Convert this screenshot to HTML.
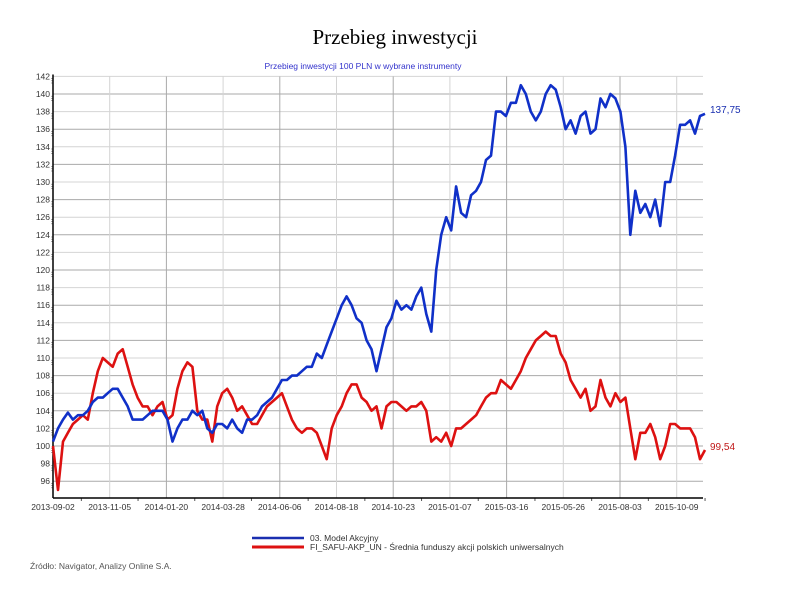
<!DOCTYPE html>
<html><head><meta charset="utf-8"><style>
body{margin:0;background:#fff;width:790px;height:594px;overflow:hidden;font-family:"Liberation Sans",sans-serif}
</style></head><body>
<svg width="790" height="594" xmlns="http://www.w3.org/2000/svg">
<text x="395" y="44" text-anchor="middle" font-family="Liberation Serif,serif" font-size="21" fill="#000">Przebieg inwestycji</text>
<text x="363" y="69" text-anchor="middle" font-size="8.5" fill="#3333cc">Przebieg inwestycji 100 PLN w wybrane instrumenty</text>
<g id="grid"></g>
<g id="axes"></g>
<g id="series"></g>
<g>
<line x1="252" y1="538" x2="304" y2="538" stroke="#1a2fb0" stroke-width="2.5"/>
<text x="310" y="541" font-size="8.5" fill="#333">03. Model Akcyjny</text>
<line x1="252" y1="547" x2="304" y2="547" stroke="#dd1111" stroke-width="3"/>
<text x="310" y="550" font-size="8.5" fill="#333">FI_SAFU-AKP_UN - Średnia funduszy akcji polskich uniwersalnych</text>
</g>
<text x="30" y="569" font-size="8.5" fill="#555">Źródło: Navigator, Analizy Online S.A.</text>
</svg>
<script>
const yTicks=[96,98,100,102,104,106,108,110,112,114,116,118,120,122,124,126,128,130,132,134,136,138,140,142];
const xLabels=["2013-09-02","2013-11-05","2014-01-20","2014-03-28","2014-06-06","2014-08-18","2014-10-23","2015-01-07","2015-03-16","2015-05-26","2015-08-03","2015-10-09"];
const blueValues=[100.5,102,103,103.8,103,103.5,103.5,104,105,105.5,105.5,106,106.5,106.5,105.5,104.5,103,103,103,103.5,104,104,104,103,100.5,102,103,103,104,103.5,104,102,101.5,102.5,102.5,102,103,102,101.5,103,103,103.5,104.5,105,105.5,106.5,107.5,107.5,108,108,108.5,109,109,110.5,110,111.5,113,114.5,116,117,116,114.5,114,112,111,108.5,111,113.5,114.5,116.5,115.5,116,115.5,117,118,115,113,120,124,126,124.5,129.5,126.5,126,128.5,129,130,132.5,133,138,138,137.5,139,139,141,140,138,137,138,140,141,140.5,138.5,136,137,135.5,137.5,138,135.5,136,139.5,138.5,140,139.5,138,134,124,129,126.5,127.5,126,128,125,130,130,133,136.5,136.5,137,135.5,137.5,137.75];
const redValues=[100,95,100.5,101.5,102.5,103,103.5,103,106,108.5,110,109.5,109,110.5,111,109,107,105.5,104.5,104.5,103.5,104.5,105,103,103.5,106.5,108.5,109.5,109,104,103,103,100.5,104.5,106,106.5,105.5,104,104.5,103.5,102.5,102.5,103.5,104.5,105,105.5,106,104.5,103,102,101.5,102,102,101.5,100,98.5,102,103.5,104.5,106,107,107,105.5,105,104,104.5,102,104.5,105,105,104.5,104,104.5,104.5,105,104,100.5,101,100.5,101.5,100,102,102,102.5,103,103.5,104.5,105.5,106,106,107.5,107,106.5,107.5,108.5,110,111,112,112.5,113,112.5,112.5,110.5,109.5,107.5,106.5,105.5,106.5,104,104.5,107.5,105.5,104.5,106,105,105.5,102,98.5,101.5,101.5,102.5,101,98.5,100,102.5,102.5,102,102,102,101,98.5,99.54];
const lastLabels=["137,75","99,54"];
const NS="http://www.w3.org/2000/svg";
const L=53,R=703,T=76.5,B=498;
function yS(v){return 446-(v-100)*8.8;}
function xIdx(i,n){return L+i*(705-L)/(n-1);}
function xLab(i){return L+i*56.7;}
function mk(tag,attrs,parent){const e=document.createElementNS(NS,tag);for(const k in attrs)e.setAttribute(k,attrs[k]);parent.appendChild(e);return e;}
const grid=document.getElementById('grid'),axes=document.getElementById('axes'),ser=document.getElementById('series');
yTicks.forEach((v,i)=>{
 const g=mk('line',{x1:L,x2:R,y1:yS(v),y2:yS(v),stroke:i%2?'#d4d4d4':'#aaa','stroke-width':1},grid);
 
 
 const t=mk('text',{x:L-3,y:yS(v)+3,'text-anchor':'end','font-size':8.5,fill:'#333'},axes);
 t.textContent=v;
 
 
 for(let k=1;k<4;k++){mk('line',{x1:L-2,x2:L,y1:yS(v)+k*2.2,y2:yS(v)+k*2.2,stroke:'#777','stroke-width':0.6},axes);}
});
xLabels.forEach((s,i)=>{
 const x=xLab(i);
 const g=mk('line',{x1:x,x2:x,y1:T,y2:B,stroke:i%2?'#d4d4d4':'#aaa','stroke-width':1},grid);
 
 
 const t=mk('text',{x:x,y:B+12,'text-anchor':'middle','font-size':8.5,fill:'#333'},axes);
 t.textContent=s;
 
 
 mk('line',{x1:x+28.35,x2:x+28.35,y1:B,y2:B+3,stroke:'#555'},axes);
});
mk('line',{x1:L,x2:L,y1:T-2,y2:B,stroke:'#000','stroke-width':1.5},axes);
mk('line',{x1:L,x2:R,y1:B,y2:B,stroke:'#000','stroke-width':1.5},axes);
function draw(vals,color,w,name){
 const p=vals.map((v,i)=>(i?'L':'M')+xIdx(i,vals.length).toFixed(1)+','+yS(v).toFixed(1)).join('');
 const e=mk('path',{d:p,fill:'none',stroke:color,'stroke-width':w,'stroke-linejoin':'round'},ser);
 
 
}
draw(redValues,'#dd1111',2.6,'series-average-line');
draw(blueValues,'#1030c8',2.6,'series-model-line');
[[blueValues,'#1a2fb0'],[redValues,'#c01818']].forEach((s,j)=>{
 const v=s[0][s[0].length-1];
 const t=mk('text',{x:710,y:yS(v)+(j?0:-1),'font-size':10,fill:s[1]},ser);
 t.textContent=lastLabels[j];
 
 
});
</script>
</body></html>
